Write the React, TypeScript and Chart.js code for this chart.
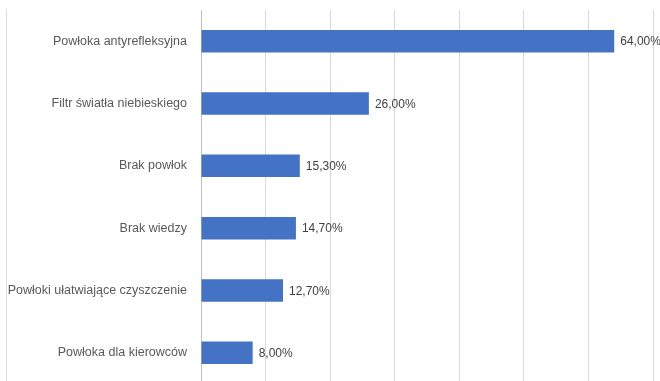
import React, { useEffect, useRef } from "react";
import { Chart, registerables } from "chart.js";

Chart.register(...registerables);

const categories = [
  "Powłoka antyrefleksyjna",
  "Filtr światła niebieskiego",
  "Brak powłok",
  "Brak wiedzy",
  "Powłoki ułatwiające czyszczenie",
  "Powłoka dla kierowców",
];
const values = [64.0, 26.0, 15.3, 14.7, 12.7, 8.0];
const axisMax = 70;
const axisStep = 10;

const FONT = "'Liberation Sans', Arial, sans-serif";

const labelPlugin = {
  id: "valueLabels",
  afterDatasetsDraw(chart: any) {
    const ctx = chart.ctx;
    const meta = chart.getDatasetMeta(0);
    ctx.save();
    ctx.font = `12px ${FONT}`;
    ctx.fillStyle = "#404040";
    ctx.textAlign = "left";
    ctx.textBaseline = "middle";
    meta.data.forEach((el: any, i: number) => {
      const txt = values[i].toFixed(2).replace(".", ",") + "%";
      ctx.fillText(txt, el.x + 6, el.y + 1);
    });
    ctx.restore();
  },
  beforeDraw(chart: any) {
    const ctx = chart.ctx;
    ctx.save();
    ctx.strokeStyle = "#d9d9d9";
    ctx.lineWidth = 1;
    ctx.beginPath();
    ctx.moveTo(6.5, chart.chartArea.top - 1);
    ctx.lineTo(6.5, chart.height);
    ctx.stroke();
    ctx.restore();
  },
};

export default function App() {
  const ref = useRef<HTMLCanvasElement>(null);
  useEffect(() => {
    document.body.style.margin = "0";
    document.body.style.overflow = "hidden";
    const chart = new Chart(ref.current!, {
      type: "bar",
      data: {
        labels: categories,
        datasets: [
          {
            data: values,
            backgroundColor: "#4472C4",
            borderColor: "#4472C4",
            barPercentage: 0.36,
            categoryPercentage: 1,
          },
        ],
      },
      options: {
        indexAxis: "y",
        animation: false,
        responsive: false,
        maintainAspectRatio: false,
        layout: { padding: { top: 10, right: 7, bottom: 0, left: 0 } },
        plugins: { legend: { display: false }, tooltip: { enabled: false } },
        scales: {
          x: {
            min: 0,
            max: axisMax,
            ticks: { display: false, stepSize: axisStep },
            grid: { color: "#d9d9d9", drawTicks: false, lineWidth: 1 },
            border: { display: false },
            afterFit: (s: any) => {
              s.height = 0;
              s.paddingLeft = 0;
              s.paddingRight = 0;
            },
          },
          y: {
            ticks: {
              color: "#595959",
              font: { family: FONT, size: 12.5 },
              padding: 14,
            },
            grid: { display: false, drawTicks: false },
            border: { display: true, color: "#bfbfbf" },
            afterFit: (s: any) => {
              s.width = 201;
              s.paddingTop = 0;
              s.paddingBottom = 0;
            },
          },
        },
      },
      plugins: [labelPlugin],
    });
    return () => chart.destroy();
  }, []);
  return (
    <div style={{ width: 660, height: 384 }}>
      <canvas ref={ref} width={660} height={384} style={{ display: "block" }} />
    </div>
  );
}
